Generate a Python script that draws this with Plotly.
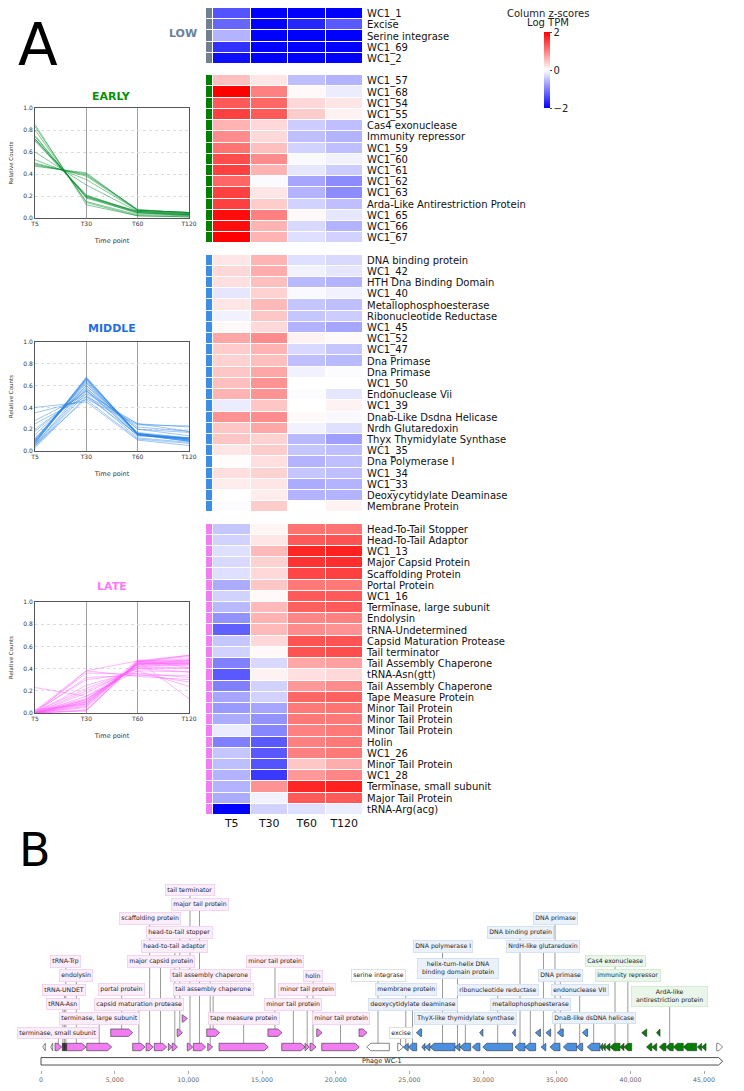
import plotly.graph_objects as go

FONT = "DejaVu Sans"
# page has an 8px body margin: figure is sized to fit the 744x1091 window
OFF = 8
W, H = 744 - OFF, 1091 - OFF


def fx(p):
    return min(1.0, max(0.0, (p - OFF) / W))


def fy(p):
    return min(1.0, max(0.0, 1 - (p - OFF) / H))


# ---------------- DATA ----------------
time_points = ["T5", "T30", "T60", "T120"]

low_genes = ["WC1_1", "Excise", "Serine integrase", "WC1_69", "WC1_2"]
low_z = [[-1.35, -2, -2, -2], [-1.2, -2, -1.7, -1.3], [-0.6, -2, -2, -2],
         [-1.6, -2, -2, -2], [-1.9, -2, -2, -2]]

early_genes = ["WC1_57", "WC1_68", "WC1_54", "WC1_55", "Cas4 exonuclease",
               "Immunity repressor", "WC1_59", "WC1_60", "WC1_61", "WC1_62",
               "WC1_63", "Arda-Like Antirestriction Protein", "WC1_65", "WC1_66", "WC1_67"]
early_z = [[0.5, 0.2, -0.5, -0.6], [2.0, 1.0, 0.05, -0.15], [1.3, 1.2, 0.3, 0.2],
           [1.5, 1.3, 0.4, 0.1], [0.6, 0.3, -0.4, -0.5], [0.9, 0.3, -0.5, -0.6],
           [1.1, 0.5, -0.35, -0.5], [1.4, 0.9, -0.05, -0.1], [1.5, 0.6, -0.2, -0.4],
           [1.2, -0.03, -0.7, -0.9], [1.5, 0.2, -0.6, -0.9], [1.5, 0.4, -0.35, -0.5],
           [1.9, 1.0, 0.05, -0.2], [1.9, 0.6, -0.3, -0.6], [2.0, 0.6, -0.25, -0.35]]

middle_genes = ["DNA binding protein", "WC1_42", "HTH Dna Binding Domain", "WC1_40",
                "Metallophosphoesterase", "Ribonucleotide Reductase", "WC1_45", "WC1_52",
                "WC1_47", "Dna Primase", "Dna Primase", "WC1_50", "Endonuclease Vii",
                "WC1_39", "Dnab-Like Dsdna Helicase", "Nrdh Glutaredoxin",
                "Thyx Thymidylate Synthase", "WC1_35", "Dna Polymerase I", "WC1_34",
                "WC1_33", "Deoxycytidylate Deaminase", "Membrane Protein"]
middle_z = [[0.2, 0.6, -0.25, -0.3], [0.3, 0.65, -0.1, -0.2], [0.25, 0.5, -0.55, -0.6],
            [-0.2, 0.35, -0.05, -0.1], [0.2, 0.55, -0.45, -0.5], [-0.1, 0.45, -0.45, -0.4],
            [0.05, 0.3, -0.6, -0.7], [0.7, 0.9, 0.1, 0.05], [0.4, 0.6, -0.3, -0.45],
            [0.35, 0.5, -0.5, -0.55], [0.45, 0.7, -0.1, -0.02], [0.5, 0.85, 0.0, 0.0],
            [0.6, 0.85, -0.02, -0.2], [-0.15, 0.45, 0.0, 0.1], [0.85, 0.9, 0.05, -0.05],
            [0.45, 0.7, -0.1, -0.25], [0.45, 0.35, -0.55, -0.75], [0.2, 0.4, -0.45, -0.5],
            [0.02, 0.25, -0.6, -0.5], [0.25, 0.35, -0.45, -0.5], [0.15, 0.2, -0.65, -0.6],
            [0.0, 0.15, -0.6, -0.6], [-0.02, 0.4, 0.0, 0.1]]

late_genes = ["Head-To-Tail Stopper", "Head-To-Tail Adaptor", "WC1_13", "Major Capsid Protein",
              "Scaffolding Protein", "Portal Protein", "WC1_16", "Terminase, large subunit",
              "Endolysin", "tRNA-Undetermined", "Capsid Maturation Protease", "Tail terminator",
              "Tail Assembly Chaperone", "tRNA-Asn(gtt)", "Tail Assembly Chaperone",
              "Tape Measure Protein", "Minor Tail Protein", "Minor Tail Protein",
              "Minor Tail Protein", "Holin", "WC1_26", "Minor Tail Protein", "WC1_28",
              "Terminase, small subunit", "Major Tail Protein", "tRNA-Arg(acg)"]
late_z = [[-0.45, 0.08, 1.1, 1.1], [-0.35, 0.2, 1.3, 1.35], [-0.25, 0.55, 1.7, 1.75],
          [-0.3, 0.35, 1.6, 1.65], [-0.25, 0.3, 1.45, 1.5], [-0.65, 0.45, 1.05, 1.05],
          [-0.35, 0.05, 1.3, 1.3], [-0.55, 0.55, 1.25, 1.3], [-0.85, 0.6, 0.95, 1.0],
          [-1.25, 0.55, 0.9, 0.85], [-0.45, 0.3, 1.35, 1.35], [-0.35, 0.05, 1.35, 1.4],
          [-1.0, -0.3, 0.7, 0.75], [-1.3, 0.1, 0.25, 0.3], [-1.0, -0.35, 0.8, 0.9],
          [-0.7, -0.35, 1.2, 1.25], [-0.8, -0.7, 1.05, 1.1], [-0.65, -0.85, 1.05, 1.05],
          [-0.15, -0.95, 1.0, 1.05], [-1.0, -1.3, 1.0, 1.05], [-0.45, -1.3, 1.0, 1.05],
          [-0.5, -1.35, 0.45, 0.65], [-0.6, -1.55, 0.8, 0.95], [-0.6, 0.85, 1.7, 1.75],
          [-0.65, -0.1, 1.3, 1.3], [-2.0, -0.35, -0.25, -0.15]]

early_lines = [[0.85, 0.12, 0.02, 0.01], [0.83, 0.14, 0.02, 0.01], [0.80, 0.15, 0.03, 0.02],
               [0.75, 0.18, 0.05, 0.02], [0.74, 0.19, 0.04, 0.03], [0.72, 0.20, 0.05, 0.03],
               [0.71, 0.21, 0.05, 0.03], [0.70, 0.20, 0.06, 0.04], [0.60, 0.30, 0.06, 0.04],
               [0.53, 0.35, 0.07, 0.05], [0.50, 0.38, 0.07, 0.05], [0.48, 0.40, 0.07, 0.05],
               [0.47, 0.41, 0.07, 0.05], [0.49, 0.39, 0.08, 0.04], [0.72, 0.19, 0.06, 0.03]]
middle_lines = [[0.40, 0.45, 0.10, 0.05], [0.35, 0.47, 0.11, 0.07], [0.28, 0.52, 0.12, 0.08],
                [0.25, 0.50, 0.15, 0.10], [0.20, 0.55, 0.14, 0.11], [0.15, 0.58, 0.15, 0.12],
                [0.12, 0.60, 0.16, 0.12], [0.10, 0.66, 0.15, 0.09], [0.09, 0.67, 0.15, 0.09],
                [0.08, 0.68, 0.15, 0.09], [0.08, 0.65, 0.16, 0.11], [0.07, 0.66, 0.16, 0.11],
                [0.10, 0.64, 0.16, 0.10], [0.09, 0.62, 0.17, 0.12], [0.06, 0.60, 0.20, 0.14],
                [0.05, 0.55, 0.22, 0.18], [0.04, 0.53, 0.25, 0.18], [0.03, 0.50, 0.25, 0.22],
                [0.05, 0.48, 0.24, 0.23], [0.06, 0.57, 0.20, 0.17], [0.11, 0.63, 0.15, 0.11],
                [0.07, 0.67, 0.16, 0.10], [0.18, 0.56, 0.14, 0.12]]
late_lines = [[0.23, 0.15, 0.38, 0.24], [0.00, 0.38, 0.33, 0.30], [0.01, 0.36, 0.35, 0.28],
              [0.00, 0.32, 0.34, 0.34], [0.02, 0.30, 0.36, 0.32], [0.00, 0.25, 0.38, 0.37],
              [0.01, 0.22, 0.40, 0.37], [0.00, 0.20, 0.40, 0.40], [0.00, 0.18, 0.41, 0.41],
              [0.00, 0.15, 0.42, 0.43], [0.00, 0.12, 0.44, 0.44], [0.00, 0.11, 0.44, 0.45],
              [0.00, 0.10, 0.44, 0.46], [0.00, 0.10, 0.45, 0.45], [0.00, 0.09, 0.44, 0.47],
              [0.00, 0.08, 0.45, 0.47], [0.00, 0.07, 0.45, 0.48], [0.00, 0.05, 0.46, 0.49],
              [0.00, 0.03, 0.46, 0.51], [0.00, 0.02, 0.47, 0.52], [0.00, 0.02, 0.46, 0.52],
              [0.03, 0.08, 0.48, 0.41], [0.02, 0.38, 0.47, 0.13], [0.00, 0.12, 0.43, 0.45],
              [0.01, 0.13, 0.42, 0.44], [0.00, 0.06, 0.47, 0.47]]

# Genome map (bp)
genome_name = "Phage WC-1"
genome_length = 46264
gene_start = [115, 658, 950, 1446, 1547, 1649, 1744, 3101, 4730, 6223, 7126, 7689, 8639, 8900,
              9240, 9580, 9925, 10336, 11245, 11313, 12080, 15400, 16335, 17917, 18256, 18711,
              19050, 21580, 22104, 24208, 24588, 24927, 25470, 25837, 26061, 26400, 28097,
              28436, 29271, 29770, 29976, 31990, 32169, 32847, 33550, 33939, 34273, 34544,
              35040, 35447, 36356, 36740, 37076, 37937, 38120, 38297, 38616, 39295, 39566,
              40767, 41090, 41460, 41770, 41962, 42417, 42912, 43591, 44541, 44839, 45857]
gene_end = [292, 794, 1405, 1527, 1629, 1730, 3054, 4798, 6223, 7058, 7621, 8531, 8870, 9262,
            9598, 9935, 10295, 11178, 12120, 11652, 15426, 16360, 17917, 18209, 18663, 19080,
            21602, 22130, 23638, 24588, 24927, 25497, 25830, 26061, 26400, 28097, 28436,
            29162, 29794, 29990, 32012, 32190, 32847, 33573, 33900, 34258, 34592, 35223,
            35447, 36356, 36763, 37100, 37937, 38120, 38297, 38616, 39295, 39566, 40089,
            41110, 41460, 41786, 42010, 42417, 42912, 43591, 44500, 44839, 45131, 46264]
gene_strand = [-1, -1, 1, 0, 0, 0] + [1] * 22 + [-1, 1] + [-1] * 39 + [1]
gene_class = (["other", "other", "late", "trna", "trna", "trna"] + ["late"] * 22
              + ["other", "other"] + ["middle"] * 23 + ["early"] * 16 + ["other"])

label_text = ["terminase, small subunit", "tRNA-Asn", "tRNA-UNDET", "tRNA-Trp", "endolysin",
              "terminase, large subunit", "portal protein", "capsid maturation protease",
              "scaffolding protein", "major capsid protein", "head-to-tail adaptor",
              "head-to-tail stopper", "tail terminator", "major tail protein",
              "tail assembly chaperone", "tail assembly chaperone", "tape measure protein",
              "minor tail protein", "minor tail protein", "minor tail protein",
              "minor tail protein", "holin", "serine integrase", "excise", "membrane protein",
              "deoxycytidylate deaminase", "DNA polymerase I",
              "helix-turn-helix DNA<br>binding domain protein",
              "ThyX-like thymidylate synthase", "ribonucleotide reductase",
              "DNA binding protein", "metallophosphoesterase", "NrdH-like glutaredoxin",
              "DNA primase", "DNA primase", "endonuclease VII", "DnaB-like dsDNA helicase",
              "Cas4 exonuclease", "immunity repressor", "ArdA-like<br>antirestriction protein"]
label_gene = [2, 3, 4, 5, 6, 7, 8, 9, 10, 11, 13, 14, 16, 17, 18, 19, 20, 26, 22, 23, 21, 24,
              28, 29, 30, 31, 35, 36, 37, 40, 42, 43, 45, 48, 47, 50, 52, 56, 58, 64]

# ---------------- STYLE ----------------
group_colors = {"late": "#f27cf2", "middle": "#4a90e2", "early": "#008000",
                "other": "#ffffff", "trna": "#3a203a"}
box_bg = {"late": "#fcedfb", "middle": "#eaf1fb", "early": "#e9f6e9", "other": "#ffffff",
          "trna": "#fcedfb"}
box_border = {"late": "#efcdec", "middle": "#cfdcef", "early": "#cfe8cf", "other": "#d9d9d9",
              "trna": "#efcdec"}

fig = go.Figure()

# ---------------- HEATMAP ----------------
groups = [(low_genes, low_z, 0), (early_genes, early_z, 1),
          (middle_genes, middle_z, 2), (late_genes, late_z, 3)]
hz, strip, tickvals, ticktext = [], [], [], []
for gi, (names, zz, code) in enumerate(groups):
    if gi > 0:
        hz.append([None] * 4)
        strip.append([None])
    for n, row in zip(names, zz):
        tickvals.append(len(hz))
        ticktext.append(n)
        hz.append(row)
        strip.append([code])
nrows = len(hz)

bwr = [[0, "rgb(0,0,255)"], [0.5, "rgb(255,255,255)"], [1, "rgb(255,0,0)"]]
fig.add_trace(go.Heatmap(
    z=hz, x=list(range(4)), y=list(range(nrows)), colorscale=bwr, zmin=-2, zmax=2,
    xgap=1, ygap=1, hoverinfo="skip", xaxis="x", yaxis="y",
    colorbar=dict(x=fx(544), xanchor="left", y=fy(32), yanchor="top",
                  len=76, lenmode="pixels", thickness=6, thicknessmode="pixels",
                  xpad=0, ypad=0, outlinewidth=0, tickvals=[-2, 0, 2],
                  ticks="outside", ticklen=2, tickfont=dict(size=10, color="#222"))))
scol = ["#708090", "#008000", "#3a8ee6", "#f27cf2"]
fig.add_trace(go.Heatmap(
    z=strip, x=[0], y=list(range(nrows)), zmin=-0.5, zmax=3.5, showscale=False, ygap=1,
    colorscale=[[0, scol[0]], [0.25, scol[0]], [0.25, scol[1]], [0.5, scol[1]],
                [0.5, scol[2]], [0.75, scol[2]], [0.75, scol[3]], [1, scol[3]]],
    hoverinfo="skip", xaxis="x2", yaxis="y"))

fig.update_layout(
    xaxis=dict(domain=[fx(213), fx(363)], range=[-0.5, 3.5], tickvals=list(range(4)),
               ticktext=time_points, showgrid=False, zeroline=False, ticks="",
               tickfont=dict(size=11, color="#111"), anchor="y", automargin=False),
    yaxis=dict(domain=[fy(815), fy(8)], range=[nrows - 0.5, -0.5], side="right",
               tickvals=tickvals, ticktext=ticktext, showgrid=False, zeroline=False,
               ticks="", ticklabelstandoff=3, tickfont=dict(size=10, color="#111"),
               anchor="x", automargin=False),
    xaxis2=dict(domain=[fx(206), fx(212)], range=[-0.5, 0.5], visible=False, anchor="y",
                automargin=False),
)

# ---------------- LINE CHARTS ----------------
line_panels = [("EARLY", early_lines, "rgba(0,140,40,0.55)", "#0a8f0a", 108, 218, 96),
               ("MIDDLE", middle_lines, "rgba(40,130,230,0.5)", "#1f6fe0", 342, 451, 328),
               ("LATE", late_lines, "rgba(255,90,255,0.5)", "#ff77ff", 602, 713, 586)]
for k, (title, lines, lcol, tcol, ytop, ybot, ytitle) in enumerate(line_panels):
    xa, ya = f"x{k + 3}", f"y{k + 3}"
    for vals in lines:
        fig.add_trace(go.Scatter(x=list(range(4)), y=vals, mode="lines",
                                 line=dict(color=lcol, width=0.9), hoverinfo="skip",
                                 showlegend=False, xaxis=xa, yaxis=ya))
    fig.layout[f"xaxis{k + 3}"] = dict(
        domain=[fx(35), fx(189)], range=[0, 3], tickvals=list(range(4)),
        ticktext=time_points, showgrid=True, gridcolor="#a0a0a0", gridwidth=0.8,
        showline=True, linecolor="#555", linewidth=0.8, mirror=True, zeroline=False,
        ticks="", tickfont=dict(size=6, color="#333"), anchor=ya, automargin=False,
        title=dict(text="Time point", font=dict(size=6.5, color="#333"), standoff=12))
    fig.layout[f"yaxis{k + 3}"] = dict(
        domain=[fy(ybot), fy(ytop)], range=[0, 1],
        tickvals=[0, 0.2, 0.4, 0.6, 0.8, 1.0], tickformat=".1f", showgrid=True,
        gridcolor="#dddddd", griddash="dot", gridwidth=0.8, showline=True,
        linecolor="#555", linewidth=0.8, mirror=True, zeroline=False, ticks="",
        tickfont=dict(size=6, color="#333"), anchor=xa, automargin=False,
        title=dict(text="Relative Counts", font=dict(size=5.5, color="#333"), standoff=9))
    fig.add_annotation(x=fx(112), y=fy(ytitle), xref="paper", yref="paper",
                       text=f"<b>{title}</b>", showarrow=False,
                       font=dict(size=11, color=tcol), xanchor="center", yanchor="middle")

# ---------------- GENOME MAP ----------------
PX_PER_BP = 0.014735
X0_PX = 41 - OFF
LEVEL_PX = 14.3
BASE_PX = 1047
bp_per_px = 1 / PX_PER_BP
xr = [-X0_PX * bp_per_px, (W - X0_PX) * bp_per_px]
ybot_px, ytop_px = 1070, 880
yr = [(BASE_PX - ybot_px) / LEVEL_PX, (BASE_PX - ytop_px) / LEVEL_PX]

# gene rows: largest first, lowest free row
ng = len(gene_start)
gene_row = [None] * ng
for i in sorted(range(ng), key=lambda i: -(gene_end[i] - gene_start[i])):
    r = 0
    while any(gene_row[j] == r and gene_start[i] < gene_end[j] and gene_start[j] < gene_end[i]
              for j in range(ng) if gene_row[j] is not None):
        r += 1
    gene_row[i] = r

# char widths for DejaVu Sans (em)
CW = {" ": .318, ",": .318, "-": .361, ".": .318, "0": .636, "1": .636, "2": .636,
      "3": .636, "4": .636, "5": .636, "6": .636, "7": .636, "8": .636, "9": .636,
      "a": .613, "b": .635, "c": .550, "d": .635, "e": .615, "f": .352, "g": .635,
      "h": .634, "i": .278, "j": .278, "k": .579, "l": .278, "m": .974, "n": .634,
      "o": .612, "p": .635, "q": .635, "r": .411, "s": .521, "t": .392, "u": .634,
      "v": .592, "w": .818, "x": .592, "y": .592, "z": .525, "A": .684, "B": .686,
      "C": .698, "D": .770, "E": .632, "F": .575, "G": .775, "H": .752, "I": .295,
      "K": .656, "L": .557, "M": .863, "N": .748, "O": .787, "P": .603, "R": .695,
      "S": .635, "T": .611, "U": .732, "V": .684, "W": .989, "X": .685, "Y": .611}
LFS = 6.2
BORDERPAD = 1.5
MULTI_EXTRA = 5


def text_px(s):
    return max(sum(CW.get(c, 0.6) for c in line) for line in s.split("<br>")) * LFS


nl = len(label_text)
lab_n = [t.count("<br>") + 1 for t in label_text]
lab_text_w = [text_px(t) for t in label_text]
lab_tw = [tw + (MULTI_EXTRA if n > 1 else 0) for tw, n in zip(lab_text_w, lab_n)]
lab_w = [tw + 2 * BORDERPAD + 1.6 for tw in lab_tw]
lab_c = [(gene_start[g] + gene_end[g]) / 2 for g in label_gene]
LGAP = 8.0   # min px between two label boxes on one level
GGAP = 0.5   # min px between a label box and a gene
boxes = {}
for i in range(ng):
    boxes.setdefault(gene_row[i], []).append((gene_start[i], gene_end[i], GGAP))
lab_level = [None] * nl
for i in sorted(range(nl), key=lambda i: -lab_text_w[i]):
    lo = lab_c[i] - lab_w[i] / 2 * bp_per_px
    hi = lab_c[i] + lab_w[i] / 2 * bp_per_px

    def clash(L):
        for k in range(lab_n[i]):
            for a, b, gap in boxes.get(L + k, []):
                g = gap * bp_per_px
                if lo - g < b and a < hi + g:
                    return True
        return False

    L = gene_row[label_gene[i]] + 1
    while clash(L):
        L += 1
    for k in range(lab_n[i]):
        boxes.setdefault(L + k, []).append((lo, hi, LGAP))
    lab_level[i] = L + (lab_n[i] - 1) / 2

HALF = 0.26
HEAD = 280
shapes = []
for i in range(nl):
    g = label_gene[i]
    shapes.append(dict(type="line", xref="x6", yref="y6", x0=lab_c[i], x1=lab_c[i],
                       y0=gene_row[g], y1=lab_level[i], layer="below",
                       line=dict(color="#9a9a9a", width=1)))


def gene_poly(s, e, strand, y):
    if strand == 0:
        return [s, e, e, s, s], [y - HALF, y - HALF, y + HALF, y + HALF, y - HALF]
    head = min(HEAD, e - s)
    if strand > 0:
        xs = [s, e - head, e, e - head, s, s]
    else:
        xs = [e, s + head, s, s + head, e, e]
    ys = [y - HALF, y - HALF, y, y + HALF, y + HALF, y - HALF]
    return xs, ys


for cls in ["other", "late", "middle", "early", "trna"]:
    X, Y = [], []
    for i in range(ng):
        if gene_class[i] != cls:
            continue
        xs, ys = gene_poly(gene_start[i], gene_end[i], gene_strand[i], gene_row[i])
        X += xs + [None]
        Y += ys + [None]
    fig.add_trace(go.Scatter(x=X, y=Y, fill="toself", fillcolor=group_colors[cls],
                             mode="lines", line=dict(color="#333", width=0.6),
                             hoverinfo="skip", showlegend=False, xaxis="x6", yaxis="y6"))

# genome track
tx, ty = gene_poly(0, genome_length, 1, -1)
fig.add_trace(go.Scatter(x=tx, y=ty, fill="toself", fillcolor="white", mode="lines",
                         line=dict(color="#222", width=0.8), hoverinfo="skip",
                         showlegend=False, xaxis="x6", yaxis="y6"))
fig.add_annotation(x=genome_length / 2, y=-1, xref="x6", yref="y6", text=genome_name,
                   showarrow=False, font=dict(size=6.5, color="#222"),
                   xanchor="center", yanchor="middle")

for i in range(nl):
    cls = gene_class[label_gene[i]]
    extra = dict(width=lab_tw[i]) if lab_n[i] > 1 else {}
    fig.add_annotation(x=lab_c[i], y=lab_level[i], xref="x6", yref="y6", text=label_text[i],
                       showarrow=False, font=dict(size=LFS, color="#222"),
                       bgcolor=box_bg[cls], bordercolor=box_border[cls], borderwidth=0.8,
                       borderpad=BORDERPAD, xanchor="center", yanchor="middle", **extra)

tick_bp = list(range(0, 45001, 5000))
fig.layout["xaxis6"] = dict(domain=[0, 1], range=xr, tickvals=tick_bp,
                            ticktext=[f"{v:,}" for v in tick_bp], ticks="outside", ticklen=3,
                            tickcolor="#aaa", tickfont=dict(size=6.3, color="#666"),
                            showgrid=False, zeroline=False, showline=False, anchor="y6",
                            automargin=False)
fig.layout["yaxis6"] = dict(domain=[fy(ybot_px), fy(ytop_px)], range=yr,
                            visible=False, anchor="x6", automargin=False)


# ---------------- TEXT ----------------
def paper_text(x, y, text, size, color):
    fig.add_annotation(x=fx(x), y=fy(y), xref="paper", yref="paper", text=text,
                       showarrow=False, font=dict(size=size, color=color),
                       xanchor="center", yanchor="middle")


paper_text(548, 14, "Column z-scores", 10, "#222")
paper_text(548, 23, "Log TPM", 10, "#222")
paper_text(183, 34, "<b>LOW</b>", 11, "#6b8299")
paper_text(38, 45, "A", 58, "#000")
paper_text(35, 850, "B", 46, "#000")

fig.update_layout(width=W, height=H, margin=dict(l=0, r=0, t=0, b=0, autoexpand=False),
                  paper_bgcolor="white", plot_bgcolor="white", showlegend=False,
                  font=dict(family=FONT, color="#222"), shapes=shapes)
fig.write_html("out.html")
